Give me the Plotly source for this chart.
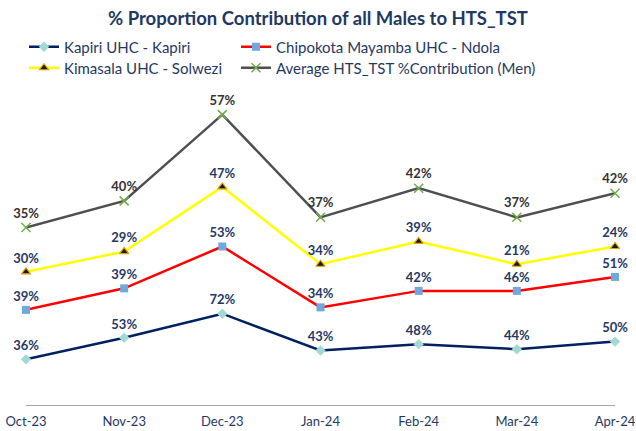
import plotly.graph_objects as go

months = ["Oct-23", "Nov-23", "Dec-23", "Jan-24", "Feb-24", "Mar-24", "Apr-24"]
kapiri = [36, 53, 72, 43, 48, 44, 50]
chipokota = [39, 39, 53, 34, 42, 46, 51]
kimasala = [30, 29, 47, 34, 39, 21, 24]
average = [35, 40, 57, 37, 42, 37, 42]

series = [
    ("Kapiri UHC - Kapiri", kapiri, "#002060", dict(symbol="diamond", color="#A3D9D4", size=8, line=dict(width=0)), "#1F3864", "legend"),
    ("Chipokota Mayamba UHC - Ndola", chipokota, "#FF0000", dict(symbol="square", color="#6FA8DC", size=8, line=dict(width=0)), "#1F3864", "legend2"),
    ("Kimasala UHC - Solwezi", kimasala, "#FFFF00", dict(symbol="triangle-up", color="#1a1a1a", size=8, line=dict(width=1.2, color="#E0A000")), "#1F3864", "legend3"),
    ("Average HTS_TST %Contribution (Men)", average, "#4D4F53", dict(symbol="x-thin", color="#70AD47", size=9, line=dict(width=1.5, color="#70AD47")), "#333333", "legend4"),
]

fig = go.Figure()
for name, vals, lc, mk, tc, lg in series:
    fig.add_trace(go.Scatter(
        x=months, y=vals, name=name, stackgroup="one", fill="none",
        mode="lines+markers+text",
        line=dict(color=lc, width=2.5),
        marker=mk,
        text=[f"{v}%" for v in vals],
        textposition="top center",
        textfont=dict(family="Lato", size=13, color=tc, weight="bold"),
        cliponaxis=False,
        hoverinfo="skip",
        legend=lg,
    ))

# plot area: top 88, bottom 405 (height 317); left 26, width 589
def px_to_paper_y(py):
    return (405 - py) / 317

def px_to_paper_x(px):
    return (px - 26) / 589

lfont = dict(family="Lato", size=15, color="#1F3864")
def leg(xpx, ypx):
    return dict(x=px_to_paper_x(xpx), xanchor="left", y=px_to_paper_y(ypx), yanchor="middle",
                font=lfont, itemwidth=30, bgcolor="rgba(0,0,0,0)")

fig.update_layout(
    width=636, height=431,
    margin=dict(l=26, r=21, t=88, b=26, autoexpand=False),
    paper_bgcolor="white", plot_bgcolor="white",
    title=dict(text="<b>% Proportion Contribution of all Males to HTS_TST</b>",
               x=0.5, xanchor="center", y=0.958, yanchor="middle",
               font=dict(family="Lato", size=18.5, color="#1F3864")),
    legend=leg(24, 47),
    legend2=leg(236, 47),
    legend3=leg(24, 68),
    legend4=leg(236, 68),
    showlegend=True,
    xaxis=dict(type="category", range=[0, 6], showgrid=False, showline=True,
               linecolor="#A6A6A6", linewidth=1, ticks="outside", ticklen=4,
               tickcolor="rgba(0,0,0,0)", automargin=False,
               tickfont=dict(family="Lato", size=13, color="#1F3864")),
    yaxis=dict(range=[0, 250], visible=False, automargin=False),
)

fig.write_html("out.html")
